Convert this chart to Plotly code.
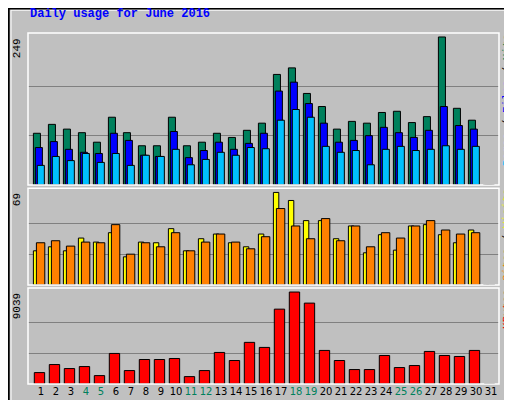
import plotly.graph_objects as go

days = list(range(1, 32))
hits = [87, 102, 94, 88, 72, 114, 88, 66, 66, 114, 66, 72, 87, 80, 92, 104, 186, 197, 154, 132,
        94, 107, 104, 122, 124, 105, 115, 249, 129, 109, 0]
files = [63, 73, 60, 55, 53, 87, 75, 50, 48, 90, 46, 58, 72, 60, 70, 87, 158, 173, 137, 104,
         72, 75, 83, 97, 88, 80, 92, 132, 100, 94, 0]
pages = [33, 48, 41, 53, 38, 53, 33, 50, 48, 60, 34, 43, 55, 50, 63, 61, 109, 127, 114, 65,
         55, 58, 34, 60, 65, 58, 60, 66, 60, 65, 0]
visits = [25.5, 28.5, 25.5, 35, 32, 39, 21, 32, 31.5, 42, 25.5, 34.5, 38, 31.5, 28.5, 38, 69, 63, 48, 48,
          34.5, 44, 24, 37.5, 26, 44, 45, 37.5, 31.5, 41, 0]
sites = [31.5, 33, 29, 32, 31.5, 45, 23, 31.5, 28.5, 39, 25.5, 32, 38, 32, 27, 36, 57, 44, 34.5, 49.5,
         33, 44, 28.5, 39, 35, 44, 48, 41, 38, 39, 0]
kbytes = [1122, 1913, 1518, 1715, 825, 3002, 1320, 2408, 2408, 2507, 726, 1320, 3101, 2309, 4091, 3596,
          7357, 9039, 7950, 3299, 2309, 1419, 1419, 2804, 1617, 1814, 3200, 2804, 2705, 3299, 0]
weekend = [4, 5, 11, 12, 18, 19, 25, 26]

C_HITS, C_FILES, C_PAGES = "#00805c", "#0000ff", "#00c0ff"
C_VISITS, C_SITES, C_KB = "#ffff00", "#ff8000", "#ff0000"
MONO = "Liberation Mono"

def bar(y, color, off, w, ya):
    return go.Bar(x=days, y=y, offset=off, width=w, yaxis=ya, marker_color=color,
                  marker_line=dict(color="black", width=1), showlegend=False, hoverinfo="skip")

fig = go.Figure()
fig.add_trace(bar(hits, C_HITS, -0.51, 0.47, "y"))
fig.add_trace(bar(files, C_FILES, -0.38, 0.47, "y"))
fig.add_trace(bar(pages, C_PAGES, -0.25, 0.47, "y"))
fig.add_trace(bar(visits, C_VISITS, -0.51, 0.36, "y2"))
fig.add_trace(bar(sites, C_SITES, -0.31, 0.56, "y2"))
fig.add_trace(bar(kbytes, C_KB, -0.45, 0.69, "y3"))

ticktext = [f'<span style="color:{C_HITS}">{d}</span>' if d in weekend else str(d) for d in days]

def yax(dom, top, step):
    return dict(domain=dom, range=[0, top], tickvals=[step, 2 * step], showticklabels=False,
                showgrid=True, gridcolor="#808080", gridwidth=1, zeroline=False, anchor="x",
                fixedrange=True)

fig.update_layout(
    width=512, height=400, barmode="overlay",
    margin=dict(l=20, r=21, t=25, b=24),
    paper_bgcolor="#c0c0c0", plot_bgcolor="#c0c0c0",
    font=dict(family=MONO, size=11, color="black"),
    xaxis=dict(range=[0.13, 31.53], tickvals=days, ticktext=ticktext, showgrid=False,
               zeroline=False, anchor="y3", ticks="", tickangle=0,
               tickfont=dict(family="DejaVu Sans", size=10)),
    yaxis=yax([0.567, 1], 255.7, 83),
    yaxis2=yax([0.282, 0.558], 72.2, 23),
    yaxis3=yax([0, 0.2735], 9435, 3013),
)

shapes = [dict(type="rect", xref="paper", yref="paper", x0=-0.036, x1=1.036, y0=-0.062, y1=1.065,
               line=dict(color="white", width=1), layer="below"),
          dict(type="rect", xref="paper", yref="paper", x0=-0.041, x1=1.042, y0=-0.068, y1=1.07,
               line=dict(color="black", width=2), layer="below")]
for d0, d1 in [(0.567, 1), (0.282, 0.558), (0, 0.2735)]:
    shapes.append(dict(type="rect", xref="paper", yref="paper", x0=0, x1=1, y0=d0, y1=d1,
                       line=dict(color="white", width=1.5)))
fig.update_layout(shapes=shapes)

def rot(text, yref, y, x=-0.008, xanchor="right"):
    fig.add_annotation(text=text, xref="paper", yref=yref, x=x, y=y, xanchor=xanchor,
                       yanchor="top", textangle=-90, showarrow=False, borderpad=0,
                       font=dict(family=MONO, size=11, color="black"))

rot("249", "y", 249)
rot("69", "y2", 69)
rot("9039", "y3", 9039)
rot(f'<span style="color:{C_PAGES}">Pages</span> / <span style="color:{C_FILES}">Files</span> / '
    f'<span style="color:{C_HITS}">Hits</span>', "paper", 1.0, x=1.002, xanchor="left")
rot(f'<span style="color:{C_SITES}">Sites</span> / <span style="color:{C_VISITS}">Visits</span>',
    "paper", 0.558, x=1.002, xanchor="left")
rot(f'<span style="color:{C_KB}">KBytes</span>', "paper", 0.2735, x=1.002, xanchor="left")

fig.add_annotation(text="<b>Daily usage for June 2016</b>", xref="paper", yref="paper",
                   x=-0.0, y=1.055, xanchor="left", yanchor="middle", showarrow=False,
                   font=dict(family=MONO, size=12, color="#0000ff"))

fig.write_html("out.html")
